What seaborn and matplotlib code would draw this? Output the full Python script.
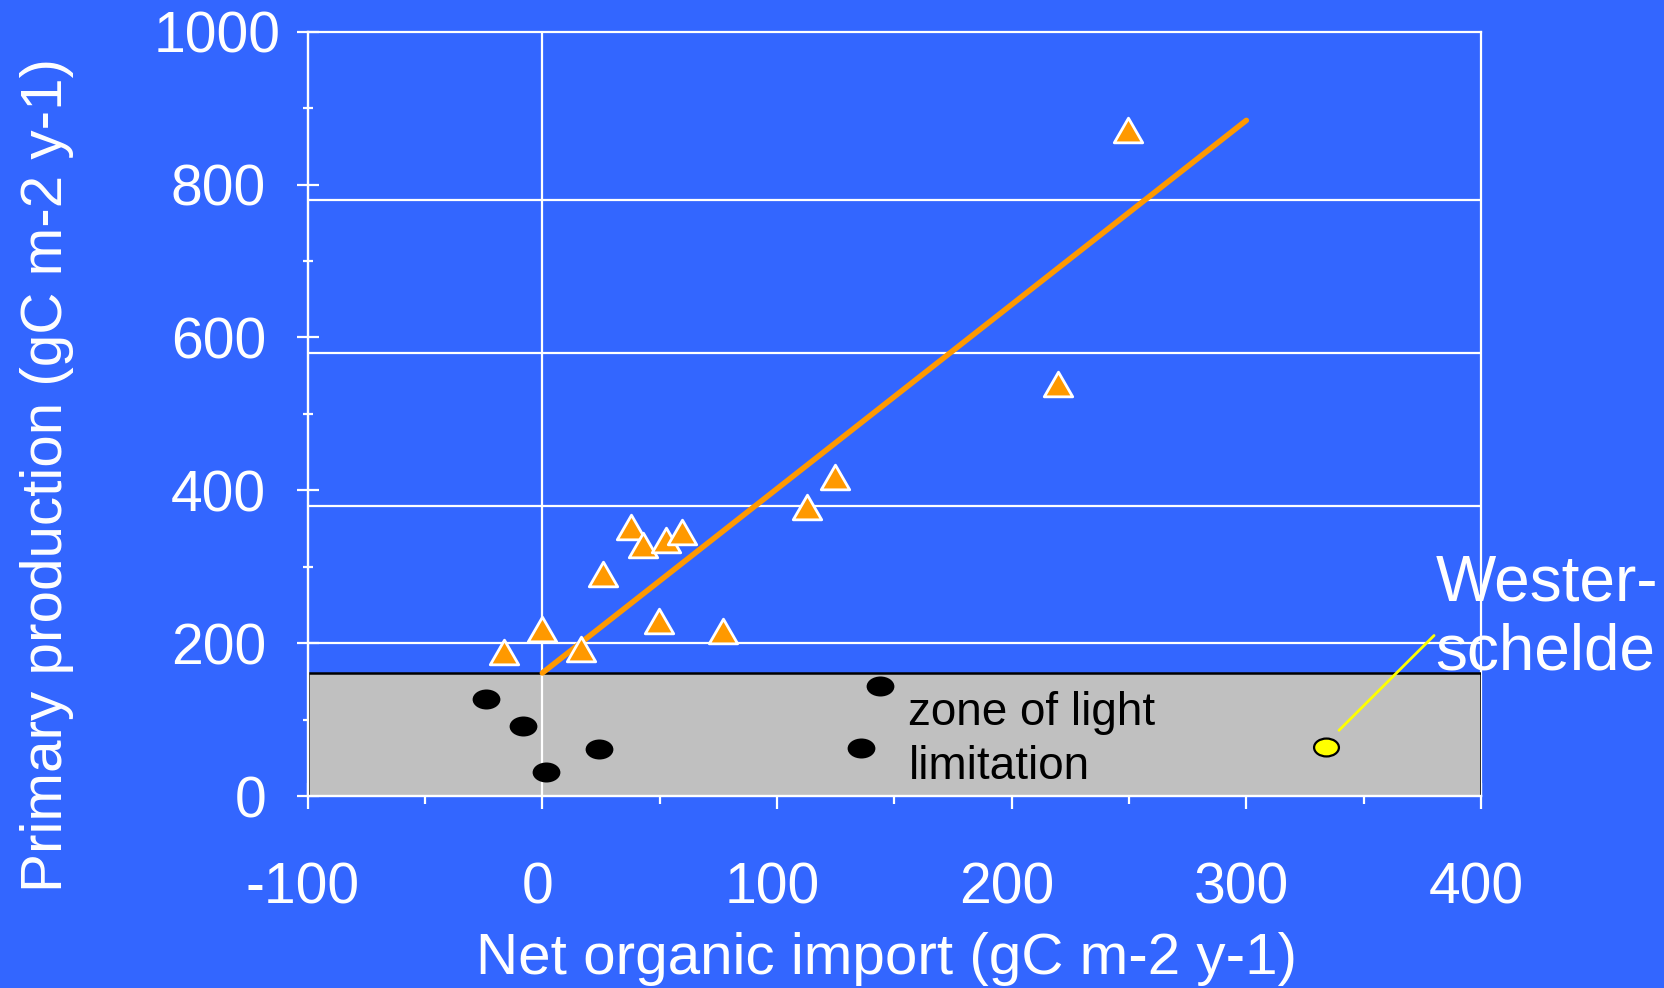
import matplotlib
matplotlib.use("Agg")
import matplotlib.pyplot as plt
import seaborn as sns
import pandas as pd
from matplotlib.path import Path
from matplotlib.transforms import Affine2D, ScaledTranslation
from matplotlib.ticker import MultipleLocator

# ---- data -------------------------------------------------------------
# Systems above the light-limitation threshold (triangles)
prod_import = [-16.4, -0.3, 16.6, 25.7, 37.6, 42.9, 52.8, 59.5, 49.5, 76.8,
               112.6, 124.7, 219.8, 249.6]
prod_pp = [189, 218, 192, 290, 352, 328, 335, 345, 229, 216,
           378, 417, 539, 872]

# Light-limited systems (black dots)
light_import = [-24.2, -8.1, 1.5, 24.1, 143.8, 135.9]
light_pp = [127, 92, 31, 61, 144, 63]

# Westerschelde
ws_import = [334]
ws_pp = [64]

# Linear trend through the non-limited systems
fit_intercept = 161
fit_slope = 2.41
fit_x = [0, 300]

# Upper bound of the light-limited zone
light_limit = 161

# Horizontal grid levels
grid_levels = [200, 380, 580, 780]

x_ticks = [-100, 0, 100, 200, 300, 400]
y_ticks = [0, 200, 400, 600, 800, 1000]

xlabel = "Net organic import (gC m-2 y-1)"
ylabel = "Primary production (gC m-2 y-1)"
zone_label = "zone of light\nlimitation"
ws_label = "Wester-\nschelde"

# ---- style ------------------------------------------------------------
BLUE = "#3366FF"
ORANGE = "#FF9900"
GREY = "#C0C0C0"

sns.set_theme(style="white")
plt.rcParams["font.family"] = ["Liberation Sans", "DejaVu Sans"]

fig = plt.figure(figsize=(16.64, 9.88), dpi=100, facecolor=BLUE)
ax = fig.add_axes([0.18492, 0.19433, 0.70511, 0.77358])
ax.set_facecolor(BLUE)

# markers: equilateral triangle and flattened ellipse
tri = Path([(0, 0.866), (-1, -0.866), (1, -0.866), (0, 0.866)],
           [Path.MOVETO, Path.LINETO, Path.LINETO, Path.CLOSEPOLY])
ell = Path.unit_circle().transformed(Affine2D().scale(1, 0.72))

# light-limitation zone
ax.axhspan(0, light_limit, facecolor=GREY, edgecolor="black",
           linewidth=1.8, zorder=1.2)

# grid
for g in grid_levels:
    ax.axhline(g, color="white", lw=1.6, zorder=1.0)
ax.axvline(0, color="white", lw=1.6, zorder=1.5)

# trend line
fit_df = pd.DataFrame({"x": fit_x,
                       "y": [fit_intercept + fit_slope * v for v in fit_x]})
sns.lineplot(data=fit_df, x="x", y="y", color=ORANGE, lw=4.0, ax=ax,
             zorder=3)

# points
sns.scatterplot(x=prod_import, y=prod_pp, marker=tri, s=420, color=ORANGE,
                edgecolor="white", linewidth=2.0, ax=ax, zorder=4)
sns.scatterplot(x=light_import, y=light_pp, marker=ell, s=400,
                color="black", linewidth=0, ax=ax, zorder=4)
sns.scatterplot(x=ws_import, y=ws_pp, marker=ell, s=320, color="#FFFF00",
                edgecolor="black", linewidth=1.6, ax=ax, zorder=4)

# annotations (baseline = last line of a multi-line label)
ax.annotate("", xy=(339.5, 86), xytext=(380, 210),
            arrowprops=dict(arrowstyle="-", color="#FFFF00", lw=2.0,
                            shrinkA=0, shrinkB=0), zorder=4.5)
ax.text(380.5, 165, ws_label, color="white", fontsize=46, ha="left",
        va="baseline", linespacing=1.2, clip_on=False, zorder=5)
ax.text(156, 22, zone_label, color="black", fontsize=33, ha="left",
        va="baseline", linespacing=1.3, zorder=5)

# axes
ax.set_xlim(-100, 400)
ax.set_ylim(0, 1000)
ax.set_xticks(x_ticks)
ax.set_yticks(y_ticks)
ax.set_xticklabels([str(v) for v in x_ticks])
ax.set_yticklabels([str(v) for v in y_ticks])
ax.xaxis.set_minor_locator(MultipleLocator(50))
ax.yaxis.set_minor_locator(MultipleLocator(100))

ax.tick_params(axis="x", which="major", direction="inout", length=19,
               width=1.6, color="white", labelcolor="white", labelsize=41,
               pad=38, bottom=True)
ax.tick_params(axis="x", which="minor", direction="inout", length=11.5,
               width=1.6, color="white", bottom=True)
ax.tick_params(axis="y", which="major", direction="inout", length=16,
               width=1.6, color="white", labelcolor="white", labelsize=41,
               pad=22, left=True)
ax.tick_params(axis="y", which="minor", direction="inout", length=7.2,
               width=1.6, color="white", left=True)

for side in ["left", "bottom"]:
    ax.spines[side].set_color("white")
    ax.spines[side].set_linewidth(1.7)
    ax.spines[side].set_zorder(2.5)
for side in ["top", "right"]:
    ax.spines[side].set_color("white")
    ax.spines[side].set_linewidth(1.6)
    ax.spines[side].set_zorder(1.1)

# nudge tick labels
for lab in ax.get_xticklabels():
    lab.set_transform(lab.get_transform()
                      + ScaledTranslation(-0.05, 0, fig.dpi_scale_trans))
top_lab = ax.get_yticklabels()[-1]
top_lab.set_transform(top_lab.get_transform()
                      + ScaledTranslation(0.15, 0, fig.dpi_scale_trans))

ax.set_xlabel(xlabel, color="white", fontsize=42, va="top")
ax.set_ylabel(ylabel, color="white", fontsize=42)
ax.xaxis.set_label_coords(0.4929, -0.178)
ax.yaxis.set_label_coords(-0.1992, 0.42)

fig.savefig("out.png", dpi=100, facecolor=BLUE)
